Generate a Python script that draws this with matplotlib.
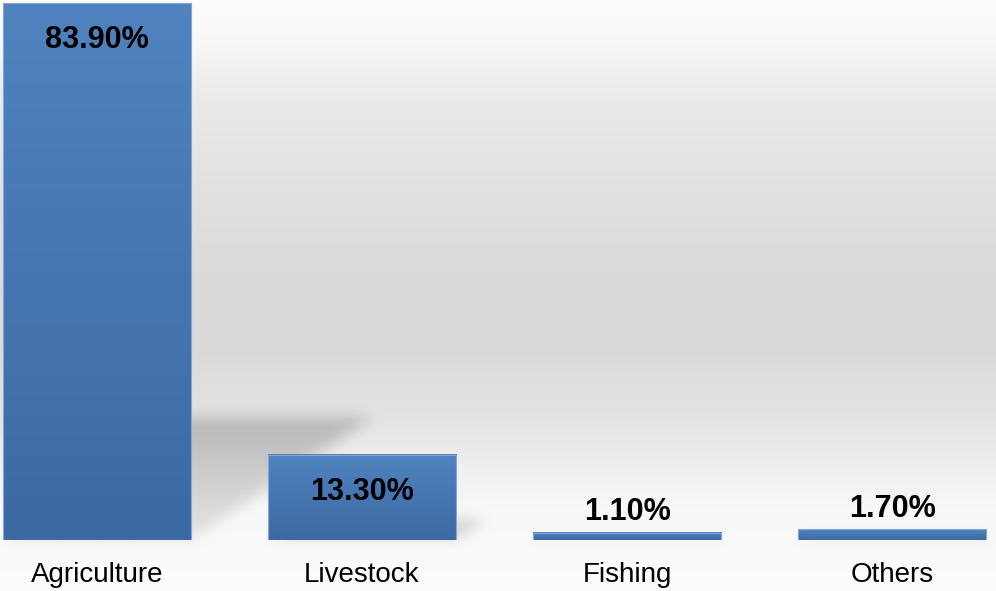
import numpy as np
import matplotlib
matplotlib.use("Agg")
import matplotlib.pyplot as plt
from matplotlib.path import Path
from matplotlib.colors import LinearSegmentedColormap

plt.rcParams["font.family"] = ["Liberation Sans", "DejaVu Sans"]

# data
categories = ["Agriculture", "Livestock", "Fishing", "Others"]
shares = [83.9, 13.3, 1.1, 1.7]
value_labels = ["83.90%", "13.30%", "1.10%", "1.70%"]

W, H = 996, 591
fig = plt.figure(figsize=(W / 100, H / 100), dpi=100)

# background axes (gradient + shadows), plot axes on top
bg = fig.add_axes([0, 0, 1, 1], zorder=0)
bg.set_axis_off()
ax = fig.add_axes([0, 51 / H, 1, 540 / H], zorder=1)
ax.patch.set_alpha(0)

# --- vertical gray gradient of the backdrop ---
stops_y = [0, 30, 100, 200, 300, 350, 420, 470, 510, 591]
stops_v = [252, 250, 234, 224, 217, 218, 228, 240, 248, 252]
gray = np.interp(np.arange(H), stops_y, stops_v) / 255
back = np.repeat(gray[:, None], W, axis=1)
back = np.dstack([back, back, back])
bg.imshow(back, extent=[0, W, 0, H], origin="upper", aspect="auto", zorder=0)
bg.set_xlim(0, W)
bg.set_ylim(0, H)

# --- bars ---
x = np.arange(len(categories))
bar_w = 0.71
bars = ax.bar(x, shares, width=bar_w, color="none", edgecolor="#86a6d4",
              linewidth=0.8, zorder=3)
bar_cmap = LinearSegmentedColormap.from_list("bar", ["#5083bf", "#3c69a3"])
grad = np.linspace(0, 1, 256)[:, None]
for p in bars:
    x0, w, h = p.get_x(), p.get_width(), p.get_height()
    ax.imshow(grad, extent=[x0, x0 + w, 0, h], origin="upper", cmap=bar_cmap,
              aspect="auto", zorder=2)

ax.set_xlim(-0.366, 3.392)
ax.set_ylim(0, 84.4)

# --- soft perspective shadows behind the bars ---
gx, gy = np.meshgrid(np.arange(W) + 0.5, np.arange(H) + 0.5)
pts = np.column_stack([gx.ravel(), gy.ravel()])
shade = np.zeros((H, W))
for p in bars:
    x0, w, h = p.get_x(), p.get_width(), p.get_height()
    (px0, py0), (px1, _), (_, pyt) = ax.transData.transform(
        [(x0, 0), (x0 + w, 0), (x0, h)])
    hpx = pyt - py0
    s, hs = 0.34 * hpx, 0.23 * hpx
    poly = Path([(px0, py0), (px1, py0), (px1 + s, py0 + hs), (px0 + s, py0 + hs)])
    m = poly.contains_points(pts).reshape(H, W).astype(float)
    fade = 0.45 + 0.55 * np.clip((gy - py0) / max(hs, 1), 0, 1)
    shade = np.maximum(shade, m * fade)

sig = 7
k = np.arange(-3 * sig, 3 * sig + 1)
kern = np.exp(-k ** 2 / (2 * sig ** 2))
kern /= kern.sum()
shade = np.apply_along_axis(lambda r: np.convolve(r, kern, mode="same"), 1, shade)
shade = np.apply_along_axis(lambda c: np.convolve(c, kern, mode="same"), 0, shade)
rgba = np.zeros((H, W, 4))
rgba[..., 3] = 0.2 * shade
bg.imshow(rgba, extent=[0, W, 0, H], origin="lower", aspect="auto", zorder=1)

# --- value labels ---
for p, lab in zip(bars, value_labels):
    cx = p.get_x() + p.get_width() / 2
    h = p.get_height()
    if h > 5:
        ax.annotate(lab, (cx, h), xytext=(0, -16), textcoords="offset points",
                    ha="center", va="top", fontsize=22, fontweight="bold", zorder=4)
    else:
        ax.annotate(lab, (cx, h), xytext=(0, 4), textcoords="offset points",
                    ha="center", va="bottom", fontsize=22, fontweight="bold", zorder=4)

ax.set_xticks(x, categories, fontsize=20)
ax.set_yticks([])
ax.tick_params(axis="x", length=0, pad=16)
for sp in ax.spines.values():
    sp.set_visible(False)

fig.savefig("out.png", dpi=100)
